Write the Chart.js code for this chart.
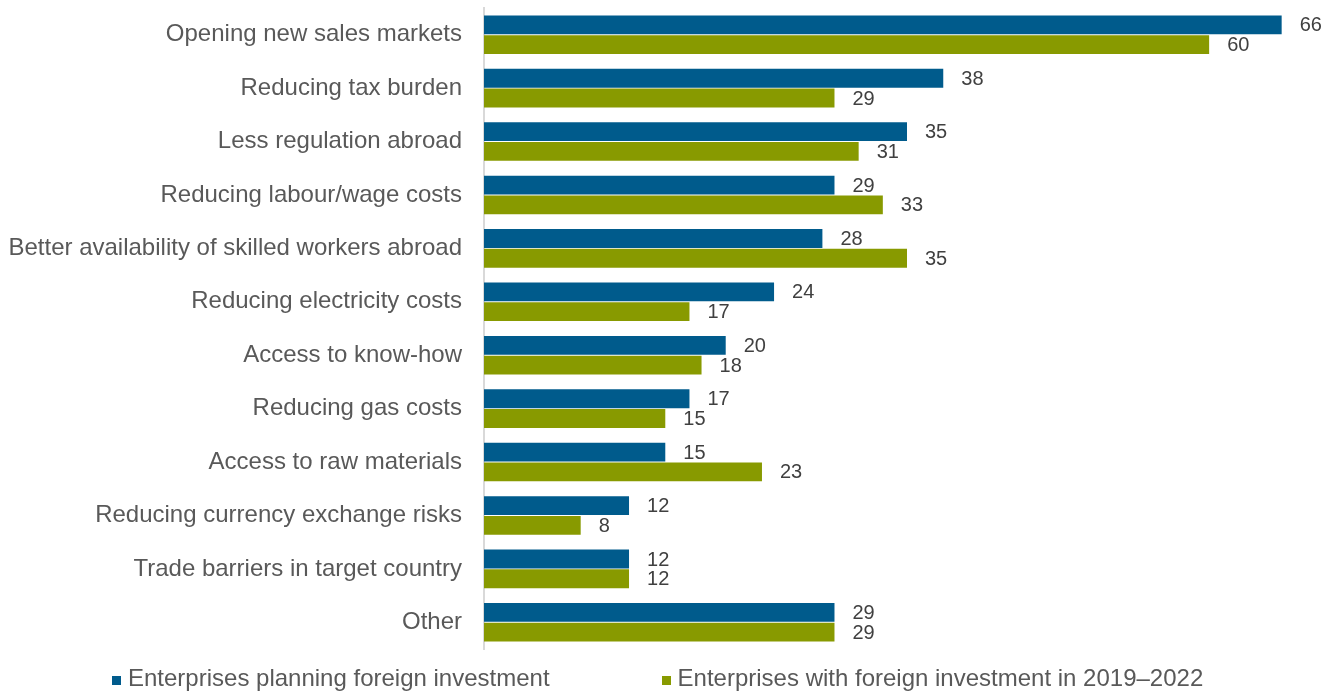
<!DOCTYPE html>
<html>
<head>
<meta charset="utf-8">
<script src="https://cdn.jsdelivr.net/npm/chart.js@4/dist/chart.umd.min.js"></script>
<style>
  html, body { margin: 0; padding: 0; background: #fff; }
  #wrap { position: relative; width: 1338px; height: 693px; }
  #legend {
    position: absolute; left: 112px; top: 664px; white-space: nowrap;
    font: 24px "Liberation Sans", Arial, sans-serif; color: #595959; line-height: 28px;
  }
  #legend span.item { display: inline-block; margin-right: 112px; }
  #legend i { display: inline-block; width: 9px; height: 9px; margin-right: 7px; vertical-align: 1px; }
</style>
</head>
<body>
<div id="wrap">
  <canvas id="chart" width="1338" height="693"></canvas>
  <div id="legend"></div>
</div>
<script>
const categories = [
  'Opening new sales markets',
  'Reducing tax burden',
  'Less regulation abroad',
  'Reducing labour/wage costs',
  'Better availability of skilled workers abroad',
  'Reducing electricity costs',
  'Access to know-how',
  'Reducing gas costs',
  'Access to raw materials',
  'Reducing currency exchange risks',
  'Trade barriers in target country',
  'Other'
]
const planning = [66, 38, 35, 29, 28, 24, 20, 17, 15, 12, 12, 29]
const withInvestment = [60, 29, 31, 33, 35, 17, 18, 15, 23, 8, 12, 29]

const seriesNames = [
  'Enterprises planning foreign investment',
  'Enterprises with foreign investment in 2019\u20132022'
]
const colours = ['#005b8c', '#889a00']

// value labels at the end of each bar
const barValues = {
  id: 'barValues',
  afterDatasetsDraw(chart) {
    const ctx = chart.ctx
    ctx.save()
    ctx.font = '20px "Liberation Sans", Arial, sans-serif'
    ctx.fillStyle = '#404040'
    ctx.textBaseline = 'middle'
    ctx.textAlign = 'left'
    chart.data.datasets.forEach((ds, i) => {
      chart.getDatasetMeta(i).data.forEach((bar, j) => {
        ctx.fillText(ds.data[j], bar.x + 18, bar.y + 1)
      })
    })
    ctx.restore()
  }
}

const chart = new Chart(document.getElementById('chart'), {
  type: 'bar',
  data: {
    labels: categories,
    datasets: [
      { label: seriesNames[0], data: planning, backgroundColor: colours[0] },
      { label: seriesNames[1], data: withInvestment, backgroundColor: colours[1] }
    ]
  },
  options: {
    indexAxis: 'y',
    responsive: false,
    animation: false,
    categoryPercentage: 0.74,
    barPercentage: 0.95,
    layout: { padding: { top: 8, bottom: 44, right: 8, left: 0 } },
    plugins: {
      legend: { display: false },
      tooltip: { enabled: false }
    },
    scales: {
      x: {
        display: false,
        min: 0,
        max: 70
      },
      y: {
        grid: { display: false },
        border: { display: true, color: '#d9d9d9', width: 2 },
        ticks: {
          color: '#595959',
          padding: 14,
          font: { family: '"Liberation Sans", Arial, sans-serif', size: 24 }
        },
        afterFit(scale) {
          scale.width = 484
          // no extra room above/below the first and last labels
          scale.paddingTop = 0
          scale.paddingBottom = 0
        }
      }
    }
  },
  plugins: [barValues]
})

document.getElementById('legend').innerHTML = chart.data.datasets.map(ds =>
  `<span class="item"><i style="background:${ds.backgroundColor}"></i>${ds.label}</span>`
).join('')
</script>
</body>
</html>
